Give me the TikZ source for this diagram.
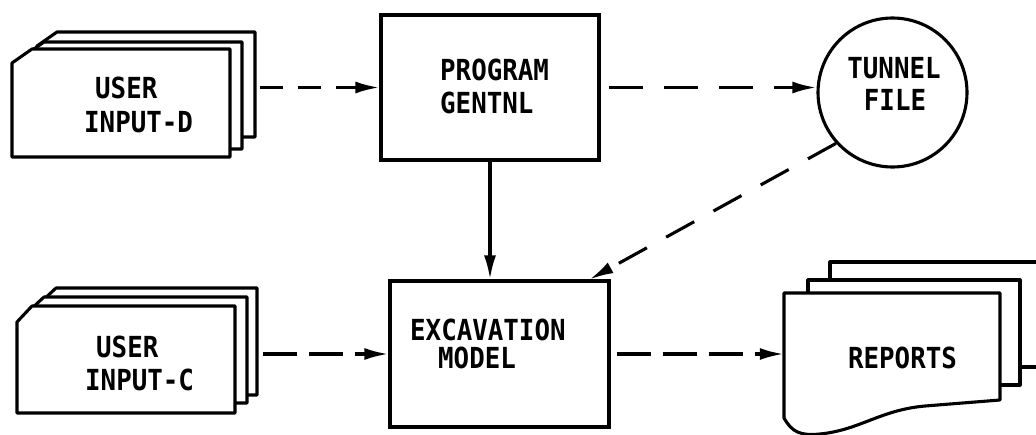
\documentclass[tikz,border=0pt]{standalone}
\usepackage{fontspec}
\usetikzlibrary{arrows.meta}
\newfontfamily\lettering[FakeStretch=0.89]{DejaVu Sans Mono}
\begin{document}
\begin{tikzpicture}[x=1pt,y=-1pt,
  lw/.style={line width=3.1pt},
  box/.style={draw, lw, rectangle, inner sep=0pt, fill=white},
  card/.style={draw, lw, fill=white, line join=round},
  ghost/.style={inner sep=0pt, draw=none},
  txt/.style={inner sep=0pt, font=\lettering\bfseries\fontsize{29}{32}\selectfont},
  tip/.style={-{Latex[length=24pt,width=12pt]}},
  shortdash/.style={lw, tip, dash pattern=on 23pt off 15pt},
  longdash/.style={lw, tip, dash pattern=on 34pt off 12pt},
  wide dash/.style={lw, tip, dash pattern=on 34pt off 21pt},
  diag dash/.style={lw, tip, dash pattern=on 32pt off 22pt}
]
\useasboundingbox (0,0) rectangle (1036,434);
\clip (0,0) rectangle (1036,434);

% USER INPUT-D stack
\path[card] (37,46) -- (57,32) -- (255,32) -- (255,137) -- (37,137) -- cycle;
\path[card] (24,56) -- (44,42) -- (242,42) -- (242,149) -- (24,149) -- cycle;
\path[card] (12,63) -- (32,49) -- (230,49) -- (230,157) -- (12,157) -- cycle;
\node[ghost, minimum width=243pt, minimum height=125pt] (inD) at (133.5,94.5) {};
\node[txt, anchor=base west] (inD1) at (95,98) {USER};
\node[txt, anchor=base west] (inD2) at (84,132) {INPUT-D};

% USER INPUT-C stack
\path[card] (41,302) -- (56,288) -- (257,288) -- (257,395) -- (41,395) -- cycle;
\path[card] (29,311) -- (44,297) -- (247,297) -- (247,403) -- (29,403) -- cycle;
\path[card] (17,322) -- (32,306) -- (235,306) -- (235,413) -- (17,413) -- cycle;
\node[ghost, minimum width=240pt, minimum height=125pt] (inC) at (137,350.5) {};
\node[txt, anchor=base west] (inC1) at (96,357) {USER};
\node[txt, anchor=base west] (inC2) at (85,390) {INPUT-C};

% PROGRAM GENTNL
\node[box, minimum width=218pt, minimum height=145pt] (pgm) at (490,87.5) {};
\node[txt, anchor=base west] (pgm1) at (440,80) {PROGRAM};
\node[txt, anchor=base west] (pgm2) at (440,113) {GENTNL};

% EXCAVATION MODEL
\node[box, minimum width=219pt, minimum height=146pt] (exc) at (499.5,354) {};
\node[txt, anchor=base west] (exc1) at (410,340) {EXCAVATION};
\node[txt, anchor=base west] (exc2) at (438,368) {MODEL};

% TUNNEL FILE
\node[draw, lw, circle, minimum size=149pt, inner sep=0pt] (tun) at (892.5,92.5) {};
\node[txt, anchor=base] (tun1) at (894,78) {TUNNEL};
\node[txt, anchor=base] (tun2) at (895,110) {FILE};

% REPORTS stack
\path[card] (830,262) rectangle (1050,367);
\path[card] (808,280) rectangle (1020,385);
\path[card] (784,293) -- (1000,293) -- (1000,400) -- (925,406)
  .. controls (880,410) and (860,430) .. (820,434)
  .. controls (800,436) and (792,432) .. (784,418) -- cycle;
\node[ghost, minimum width=216pt, minimum height=140pt] (rep) at (892,363) {};
\node[txt, anchor=base] (rep1) at (902.5,368) {REPORTS};

% connectors
\draw[shortdash, shorten <=5pt] (inD.east |- pgm.west) -- (pgm.west);
\draw[wide dash, shorten <=8pt] (pgm.east) -- (pgm.east -| tun.west);
\draw[lw, tip] (pgm.south) -- (pgm.south |- exc.north);
\draw[diag dash] (tun.222) -- ([xshift=-21pt]exc.north east);
\draw[longdash, shorten <=6pt] (inC.east |- exc.west) -- (exc.west);
\draw[longdash, shorten <=6pt] (exc.east) -- (exc.east -| rep.west);
\end{tikzpicture}
\end{document}
